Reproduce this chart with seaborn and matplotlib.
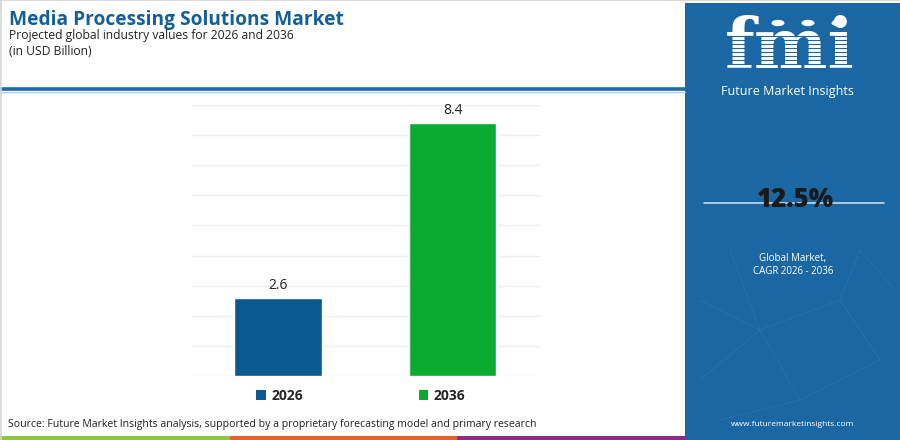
import matplotlib
matplotlib.use("Agg")
import matplotlib.pyplot as plt
import seaborn as sns
import pandas as pd
from matplotlib.patches import Rectangle, Circle
from matplotlib.lines import Line2D

years = ["2026", "2036"]
values = [2.6, 8.4]
bar_colors = ["#0b5a8f", "#0aab2e"]
title = "Media Processing Solutions Market"
subtitle = "Projected global industry values for 2026 and 2036"
unit = "(in USD Billion)"
cagr = "12.5%"
cagr_label = ["Global Market,", "CAGR 2026 - 2036"]
source = "Source: Future Market Insights analysis, supported by a proprietary forecasting model and primary research"
website = "www.futuremarketinsights.com"

sns.set_theme(style="white")
plt.rcParams["font.family"] = ["Open Sans", "DejaVu Sans"]

W, H = 900, 440
fig = plt.figure(figsize=(9, 4.4), dpi=100)
fig.patch.set_facecolor("white")

def fx(px):
    return px / W

def fy(py):
    return 1 - py / H

panel = "#1a67a4"
# background decorations (figure coords)
fig.add_artist(Rectangle((fx(685), 0), fx(215), fy(3), transform=fig.transFigure,
                         facecolor=panel, edgecolor="none", zorder=0))
# faint network decoration in the panel
net = [((730, 250), (760, 330)), ((760, 330), (700, 380)), ((760, 330), (840, 300)),
       ((840, 300), (880, 360)), ((840, 300), (860, 250)), ((760, 330), (800, 400)),
       ((800, 400), (880, 360)), ((700, 300), (760, 330)), ((800, 400), (720, 420)),
       ((860, 250), (895, 290))]
for (x0, y0), (x1, y1) in net:
    fig.add_artist(Line2D([fx(x0), fx(x1)], [fy(y0), fy(y1)], transform=fig.transFigure,
                          color="#4f88b8", lw=0.5, alpha=0.35, zorder=1))
fig.add_artist(Line2D([0, fx(685)], [fy(89.5), fy(89.5)], transform=fig.transFigure,
                      color="#1d6aa6", lw=2.6))
fig.add_artist(Line2D([0, fx(685)], [fy(92), fy(92)], transform=fig.transFigure,
                      color="#a9d2ee", lw=1.0))
fig.add_artist(Line2D([0, 1], [fy(0.5), fy(0.5)], transform=fig.transFigure,
                      color="#d5d5d5", lw=1.2))
fig.add_artist(Line2D([fx(0.5), fx(0.5)], [0, 1], transform=fig.transFigure,
                      color="#d5d5d5", lw=1.2))
strip = [("#8dc63f", 0, 230), ("#e8612c", 230, 457), ("#8e2a8b", 457, 685)]
for c, x0, x1 in strip:
    fig.add_artist(Rectangle((fx(x0), 0), fx(x1 - x0), 4 / H, transform=fig.transFigure,
                             facecolor=c, edgecolor="none"))

# header texts
fig.text(fx(9), fy(20), title, fontsize=13.8, fontweight="bold", color="#135f98",
         va="center", ha="left")
fig.text(fx(9), fy(35), subtitle, fontsize=8.7, color="#222222", va="center", ha="left")
fig.text(fx(9), fy(51), unit, fontsize=8.7, color="#222222", va="center", ha="left")
fig.text(fx(8), fy(424), source, fontsize=7.6, color="#222222", va="center", ha="left")

# right panel texts / logo
fig.text(fx(790), fy(49), "fmi", fontsize=50, fontweight="bold", family=["DejaVu Serif"],
         color="white", va="center", ha="center")
for yy in range(36, 78, 4):
    fig.add_artist(Line2D([fx(715), fx(870)], [fy(yy), fy(yy)], transform=fig.transFigure,
                          color=panel, lw=0.8, zorder=5))
for cx in (778, 808, 838):
    fig.add_artist(Circle((fx(cx), fy(23)), 6.5 / W, transform=fig.transFigure,
                          facecolor="white", edgecolor="none", zorder=6))
fig.text(fx(787), fy(92), "Future Market Insights", fontsize=9.0, color="white",
         va="center", ha="center")
fig.add_artist(Line2D([fx(704), fx(884)], [fy(203), fy(203)], transform=fig.transFigure,
                      color="#c9d9e6", lw=1.2))
fig.text(fx(795), fy(200), cagr, fontsize=18.5, fontweight="heavy", color="#1a1a1a",
         va="center", ha="center", zorder=6)
fig.text(fx(793), fy(259), cagr_label[0], fontsize=7.0, color="white", va="center", ha="center")
fig.text(fx(793), fy(272), cagr_label[1], fontsize=7.0, color="white", va="center", ha="center")
fig.text(fx(793), fy(424), website, fontsize=6.0, color="white", va="center", ha="center")

# main chart
left, right, top, bottom = 192, 540, 105, 376
ax = fig.add_axes([fx(left), 1 - bottom / H, (right - left) / W, (bottom - top) / H])
df = pd.DataFrame({"year": years, "value": values})
sns.barplot(data=df, x="year", y="value", hue="year", palette=bar_colors, width=0.5,
            ax=ax, legend=False, saturation=1, zorder=3)
ax.set_ylim(0, 9)
ax.set_xlim(-0.493, 1.5)
ax.set_yticks(range(0, 10))
ax.yaxis.grid(True, color="#efefef", lw=1.0, zorder=0)
ax.xaxis.grid(False)
ax.set_axisbelow(True)
ax.tick_params(left=False, bottom=False, labelleft=False, labelbottom=False)
for s in ax.spines.values():
    s.set_visible(False)
ax.set_xlabel("")
ax.set_ylabel("")
for i, v in enumerate(values):
    ax.annotate(f"{v}", (i, v), xytext=(0, 9), textcoords="offset points",
                ha="center", va="center", fontsize=10, color="#222222")

handles = [Rectangle((0, 0), 1, 1, facecolor=c, edgecolor="none") for c in bar_colors]
leg = fig.legend(handles, years, loc="center", bbox_to_anchor=(fx(361), fy(396)), ncol=2,
                 frameon=False, handlelength=0.7, handleheight=0.7, handletextpad=0.4,
                 columnspacing=8.3, prop={"weight": "bold", "size": 10})

fig.savefig("out.png", dpi=100, facecolor="white")
